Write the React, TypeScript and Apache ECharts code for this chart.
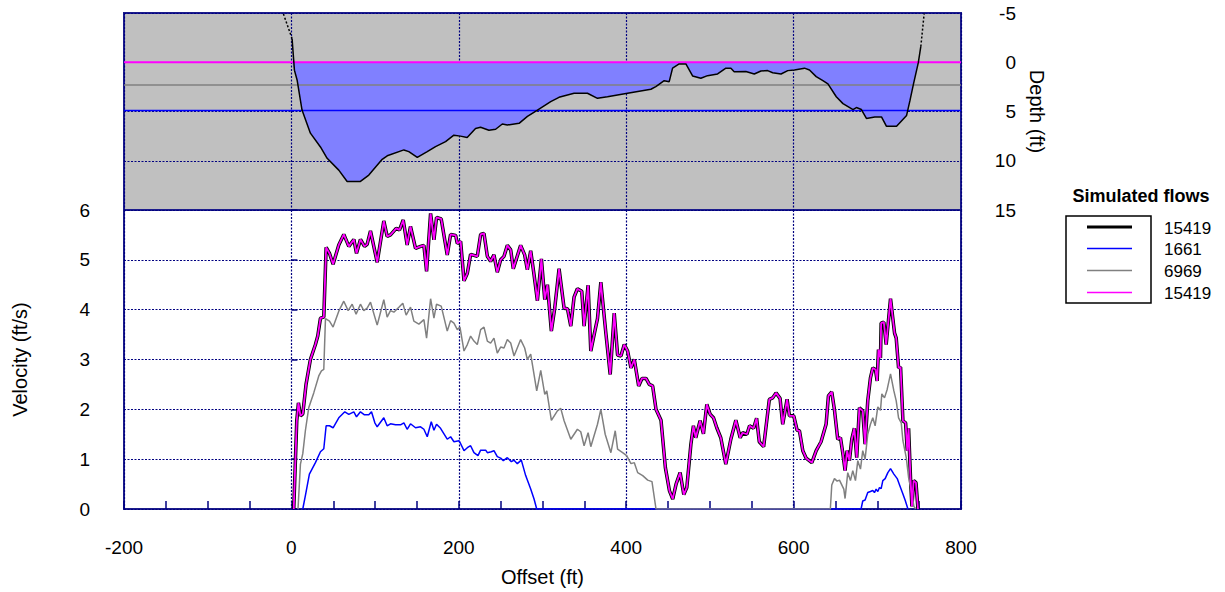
import React, { useEffect, useRef } from "react";
import * as echarts from "echarts";

// ---------- DATA ----------
const flowNames = ["15419", "1661", "6969", "15419"];
const flowColors = ["#000000", "#0000FF", "#808080", "#FF00FF"];

// water-surface depth (ft) for each simulated flow
const surface15419 = 0;
const surface6969 = 2.3;
const surface1661 = 4.9;

// bed profile [offset ft, depth ft]
const bedProfile: number[][] = [
  [0.8, -2.4], [3.6, 0.8], [6.8, 1.8], [12.7, 4.85], [22.7, 7.2], [34.7, 8.6], [42.7, 9.75],
  [56.6, 10.95], [66.6, 12.1], [82.5, 12.1], [92.5, 11.45], [108.5, 9.85], [114.5, 9.5],
  [134.4, 8.9], [140.3, 9.07], [150.4, 9.65], [162.3, 9.07], [172.2, 8.56], [184.2, 8.06],
  [194.1, 7.4], [202, 7.5], [210, 7.64], [220, 6.73], [226, 6.6], [236, 6.9], [244, 6.8],
  [252, 6.27], [258, 6.37], [272, 6.2], [282, 5.5], [294, 4.85], [309.8, 4.0], [319.7, 3.56],
  [329.8, 3.32], [337.7, 3.15], [353.7, 3.15], [365.7, 3.66], [377.6, 3.5], [401.6, 3.15],
  [429.5, 2.74], [435.4, 2.48], [445.4, 1.87], [451.4, 1.97], [455.4, 0.6], [463.3, 0.17],
  [471.3, 0.17], [479.3, 1.39], [489.2, 1.63], [497.2, 1.36], [509.2, 1.19], [519.1, 0.6],
  [525.1, 0.6], [529, 0.96], [543, 0.93], [553, 1.19], [561, 0.89], [569, 0.85], [575, 1.06],
  [585, 1.19], [593, 0.85], [601, 0.78], [613, 0.6], [619, 0.78], [627, 1.46], [635, 1.87],
  [641, 2.2], [651, 3.5], [659, 4.2], [671, 4.8], [675, 4.6], [681, 4.8], [687, 5.7],
  [697, 5.55], [705, 5.55], [711, 6.5], [723, 6.5], [735, 5.4], [739, 3.9], [743, 2.3],
  [749, 0.04], [752, -1.6],
];
const leftBank: number[][] = [[-9.5, -4.9], [0.8, -2.4]];
const rightBank: number[][] = [[752, -1.6], [756, -4.95]];

// velocity profiles [offset ft, velocity ft/s]
const vel15419: number[][] = [
  [2.8, 0], [6.4, 1.77], [8.4, 2.13], [10.8, 1.87], [13.6, 1.91], [17.5, 2.5], [22.7, 3.0],
  [28.7, 3.3], [31.5, 3.47], [34.7, 3.83], [38.7, 3.85], [41.5, 5.25], [45.5, 5.13], [49.8, 4.91],
  [56.6, 5.3], [62.6, 5.51], [68.6, 5.27], [74.6, 5.41], [77.8, 5.13], [82.5, 5.41], [87.3, 5.27],
  [90.5, 5.31], [94.5, 5.58], [102.5, 4.95], [110.4, 5.78], [114.4, 5.47], [118.4, 5.5],
  [125.2, 5.63], [129.2, 5.6], [133.6, 5.8], [138.3, 5.3], [142.3, 5.67], [148.3, 5.23],
  [154.3, 5.27], [158.3, 5.29], [161.5, 4.77], [166.3, 5.93], [170.3, 5.4], [173.4, 5.85],
  [179, 5.82], [186.2, 5.1], [190.2, 5.51], [196.2, 5.49], [198.2, 5.33], [202.2, 5.37],
  [206.2, 4.58], [210.2, 4.73], [214.1, 5.11], [222.1, 5.07], [226.1, 5.51], [230.1, 5.53],
  [234.1, 5.07], [238, 4.97], [242, 5.1], [246, 4.75], [250, 5.0], [254, 5.07], [258, 5.29],
  [262, 5.2], [265.1, 4.82], [273.9, 5.29], [278.7, 5.1], [281.9, 4.8], [285.9, 5.18],
  [289.9, 4.7], [293.9, 4.18], [298.7, 5.02], [302.7, 4.2], [305.9, 4.5], [310.6, 3.57],
  [314.6, 4.03], [319.8, 4.82], [325.8, 4.03], [329.8, 4.02], [333.8, 3.67], [337.7, 4.25],
  [341.7, 4.42], [346.9, 4.37], [349.7, 3.67], [354.5, 4.49], [357.7, 3.17], [361.7, 3.5],
  [365.7, 3.82], [369.7, 4.55], [375.7, 3.53], [380.9, 2.7], [385.7, 3.93], [389.7, 3.09],
  [393.7, 3.07], [397.7, 3.3], [401.7, 3.17], [405.7, 2.83], [409.7, 3.0], [414.9, 2.47],
  [418.9, 2.62], [423.7, 2.62], [427.6, 2.5], [431.6, 2.47], [435.6, 2.0], [441.6, 1.78],
  [446.8, 0.83], [451.6, 0.37], [455.6, 0.2], [459.6, 0.5], [464.4, 0.73], [468.8, 0.29],
  [472.4, 0.43], [477.3, 1.3], [480.3, 1.67], [483.1, 1.43], [488.3, 1.77], [492.3, 1.51],
  [496.3, 2.1], [500.3, 1.9], [504.3, 1.83], [508.2, 1.63], [513, 1.43], [519, 0.9], [525, 1.4],
  [531, 1.78], [536.2, 1.43], [539, 1.53], [544.2, 1.5], [547.4, 1.67], [552.2, 1.62],
  [555.8, 1.82], [559, 1.35], [564.2, 1.25], [571, 2.2], [575, 2.23], [579, 2.33], [583.8, 2.22],
  [587, 1.7], [592.2, 2.2], [595, 1.87], [600.2, 1.87], [604.2, 1.58], [607, 1.57], [611, 1.17],
  [615, 1.02], [621.8, 0.93], [627, 1.17], [632.8, 1.35], [638.8, 1.7], [641.6, 2.27],
  [645.6, 2.35], [648.8, 1.99], [652.7, 1.4], [656, 1.43], [658.7, 1.13], [661.5, 0.77],
  [663.9, 1.17], [666.7, 0.97], [669.5, 1.4], [672.6, 1.62], [675.4, 1.03], [678.6, 2.03],
  [682.6, 1.97], [685.4, 1.3], [688.6, 2.17], [691.8, 2.63], [694.6, 2.83], [697.8, 2.8],
  [699.8, 2.57], [701.4, 3.2], [703.8, 3.03], [704.6, 3.73], [707.8, 3.75], [710.6, 3.3],
  [715.8, 4.22], [720.6, 3.53], [722.6, 3.43], [725.4, 2.83], [727.8, 2.85], [730.6, 1.77],
  [733.8, 1.73], [735.8, 1.17], [737.4, 1.62], [739.8, 0.57], [741.4, 0.05], [743.4, 0.57],
  [746.2, 0.53], [748.6, 0],
];

const vel6969: number[][] = [
  [7.9, 0], [10.8, 0.9], [13.6, 1.11], [16.7, 1.57], [20.7, 2.03], [26.7, 2.33], [32.7, 2.67],
  [35.9, 2.77], [38.7, 2.8], [40.7, 3.82], [45.5, 3.77], [49.8, 3.65], [56.6, 3.97], [62.6, 4.17],
  [67.8, 3.98], [72.6, 4.11], [77.3, 3.91], [82.5, 4.11], [86.5, 3.98], [90.5, 4.03], [94.5, 4.15],
  [102.5, 3.69], [110.4, 4.2], [114.4, 3.85], [118.4, 3.98], [122.4, 3.95], [128.4, 4.05],
  [133.1, 4.13], [137.1, 3.89], [142.3, 4.05], [146.3, 3.77], [152.3, 3.71], [158.3, 3.8],
  [161.5, 3.43], [166.3, 4.22], [170.3, 3.83], [173.4, 4.11], [179, 4.07], [186.2, 3.57],
  [190.2, 3.78], [194.2, 3.73], [198.2, 3.6], [201.4, 3.65], [206.2, 3.17], [210.2, 3.3],
  [214.1, 3.47], [218.1, 3.37], [222.1, 3.3], [226.1, 3.6], [230.1, 3.65], [234.1, 3.37],
  [238, 3.33], [242, 3.43], [246, 3.13], [250, 3.25], [254, 3.23], [258, 3.4], [262, 3.33],
  [266, 3.07], [273.9, 3.4], [278.7, 3.23], [281.9, 3.0], [285.9, 3.11], [293.1, 2.37],
  [297.9, 2.78], [302.7, 2.3], [305.1, 2.37], [310.6, 1.78], [317.8, 1.97], [321.8, 2.02],
  [325.8, 1.77], [333.8, 1.4], [341.7, 1.6], [345.7, 1.55], [349.7, 1.27], [354.5, 1.53],
  [357.7, 1.25], [365.7, 1.7], [369.7, 2.0], [374.9, 1.5], [381.7, 1.13], [386.9, 1.57],
  [389.7, 1.2], [395.7, 1.13], [400.5, 1.07], [405.7, 0.91], [409.7, 0.93], [413.7, 0.73],
  [419.7, 0.67], [425.7, 0.58], [430.8, 0.55], [435.6, 0], [643.9, 0], [645.6, 0.48],
  [648.8, 0.61], [652, 0.56], [654.8, 0.58], [660, 0.4], [661.5, 0.21], [664.7, 0.73],
  [667.9, 0.57], [670.7, 0.77], [673.9, 0.57], [676.7, 0.97], [679.9, 0.8], [682.6, 1.17],
  [685.4, 1.0], [688.6, 1.5], [691.8, 1.7], [694.6, 1.83], [697.4, 1.67], [700.6, 2.05],
  [703.8, 1.98], [705.4, 2.31], [708.6, 2.23], [711.8, 2.4], [715.8, 2.71], [719.8, 2.37],
  [722.6, 2.17], [725.4, 1.83], [728.6, 1.73], [730.6, 1.37], [734.6, 1.03], [737.4, 0.63],
  [740.6, 0.37], [743.8, 0.05], [746.2, 0],
];

const vel1661: number[][] = [
  [13.6, 0], [16.7, 0.27], [21.5, 0.7], [28.7, 0.93], [34.7, 1.15], [38.7, 1.21], [41.5, 1.67],
  [45.5, 1.67], [49.8, 1.63], [56.6, 1.83], [63.8, 1.95], [68.6, 1.9], [74.6, 1.95], [77.8, 1.85],
  [82.5, 1.95], [87.3, 1.89], [92.5, 1.89], [95.7, 1.95], [99.7, 1.73], [102.5, 1.65],
  [110.4, 1.83], [114.4, 1.67], [118.4, 1.71], [124.4, 1.69], [130.4, 1.69], [134.4, 1.73],
  [138.3, 1.6], [142.3, 1.71], [148.3, 1.63], [154.3, 1.65], [158.3, 1.6], [162.3, 1.45],
  [167.1, 1.75], [170.3, 1.58], [173.4, 1.7], [178.2, 1.62], [186.2, 1.4], [190.2, 1.45],
  [194.2, 1.35], [200.2, 1.37], [202.2, 1.31], [206.2, 1.17], [210.2, 1.23], [214.1, 1.27],
  [218.1, 1.13], [222.9, 1.07], [226.1, 1.18], [232.1, 1.18], [234.1, 1.13], [238.8, 1.15],
  [242, 1.17], [246, 1.05], [250, 1.02], [253.2, 0.97], [258, 1.03], [262.8, 0.95], [266, 0.98],
  [269.9, 0.91], [274.7, 0.98], [279.9, 0.67], [285.9, 0.4], [289.9, 0.2], [293.1, 0],
  [680.6, 0], [682.6, 0.16], [685.4, 0.18], [688.6, 0.33], [691.8, 0.35], [694.6, 0.37],
  [696.6, 0.33], [698.6, 0.4], [700.6, 0.35], [702.6, 0.43], [704.6, 0.41], [706.6, 0.57],
  [709.4, 0.61], [712.6, 0.73], [715.8, 0.81], [719.8, 0.7], [723.8, 0.61], [726.6, 0.48],
  [730.6, 0.3], [733.4, 0.17], [736.6, 0],
];

// axis ranges
const xMin = -200, xMax = 800, xStep = 200;
const depthMin = -5, depthMax = 15, depthStep = 5;
const velMin = 0, velMax = 6, velStep = 1;

// ---------- CHART ----------
const FONT = "'Liberation Sans', Arial, Helvetica, sans-serif";
const NAVY = "#000080";
const BORDER = "#1c1c8c";
const gridDash = { color: NAVY, width: 1.2, type: [2, 1.5] as any };

export default function App() {
  const ref = useRef<HTMLDivElement>(null);

  useEffect(() => {
    if (!ref.current) return;
    const chart = echarts.init(ref.current, undefined, { renderer: "svg" });

    const fillData = bedProfile.map((p) => [p[0], Math.max(p[1], 0)]);
    const surfaceLine = (d: number) => [[xMin, d], [xMax, d]];

    const legendY = [227, 248.5, 270.5, 292.5];
    const legendWidths = [3, 1.5, 1.5, 1.5];
    const graphic: any[] = [
      {
        type: "text",
        x: 1141,
        y: 196,
        style: {
          text: "Simulated flows",
          font: `bold 18px ${FONT}`,
          fill: "#000",
          textAlign: "center",
          textVerticalAlign: "middle",
        },
      },
      {
        type: "rect",
        shape: { x: 1066, y: 216, width: 85, height: 87 },
        style: { fill: "none", stroke: "#000", lineWidth: 1.5 },
      },
    ];
    flowNames.forEach((name, i) => {
      graphic.push({
        type: "line",
        shape: { x1: 1087, y1: legendY[i], x2: 1132, y2: legendY[i] },
        style: { stroke: flowColors[i], lineWidth: legendWidths[i] },
      });
      graphic.push({
        type: "text",
        x: 1164,
        y: legendY[i] + 1,
        style: {
          text: name,
          font: `17px ${FONT}`,
          fill: "#000",
          textAlign: "left",
          textVerticalAlign: "middle",
        },
      });
    });

    const line = (extra: any) => ({
      type: "line",
      symbol: "none",
      showSymbol: false,
      silent: true,
      ...extra,
    });

    chart.setOption({
      animation: false,
      textStyle: { fontFamily: FONT },
      grid: [
        {
          left: 124, top: 13, width: 837, height: 197,
          show: true, backgroundColor: "#C0C0C0", borderColor: BORDER, borderWidth: 2,
        },
        {
          left: 124, top: 210, width: 837, height: 300,
          show: true, backgroundColor: "#FFFFFF", borderColor: BORDER, borderWidth: 2,
        },
      ],
      xAxis: [
        {
          type: "value", gridIndex: 0, min: xMin, max: xMax, interval: xStep,
          axisLine: { show: false }, axisTick: { show: false }, axisLabel: { show: false },
          splitLine: { show: true, lineStyle: gridDash },
        },
        {
          type: "value", gridIndex: 1, min: xMin, max: xMax, interval: xStep,
          name: "Offset (ft)", nameLocation: "middle", nameGap: 58,
          nameTextStyle: { fontSize: 20, color: "#000", fontFamily: FONT },
          axisLine: { show: false },
          axisTick: { show: true, inside: true, length: 8, lineStyle: { color: NAVY, width: 1.5 } },
          minorTick: { show: true, splitNumber: 4, length: 8, lineStyle: { color: NAVY, width: 1.5 } },
          axisLabel: { fontSize: 19, color: "#000", margin: 29, fontFamily: FONT },
          splitLine: { show: true, lineStyle: gridDash },
        },
      ],
      yAxis: [
        {
          type: "value", gridIndex: 0, position: "right", inverse: true,
          min: depthMin, max: depthMax, interval: depthStep,
          name: "Depth (ft)", nameLocation: "middle", nameGap: 66, nameRotate: -90,
          nameTextStyle: { fontSize: 20, color: "#000", fontFamily: FONT },
          axisLine: { show: false }, axisTick: { show: false },
          axisLabel: { fontSize: 19, color: "#000", align: "right", margin: 55, fontFamily: FONT },
          splitLine: { show: true, lineStyle: gridDash },
        },
        {
          type: "value", gridIndex: 1, position: "left",
          min: velMin, max: velMax, interval: velStep,
          name: "Velocity (ft/s)", nameLocation: "middle", nameGap: 94, nameRotate: 90,
          nameTextStyle: { fontSize: 20, color: "#000", fontFamily: FONT },
          axisLine: { show: false },
          axisTick: { show: true, inside: true, length: 6, lineStyle: { color: NAVY, width: 1.5 } },
          axisLabel: { fontSize: 19, color: "#000", margin: 34, fontFamily: FONT },
          splitLine: { show: true, lineStyle: gridDash },
        },
      ],
      series: [
        line({
          xAxisIndex: 0, yAxisIndex: 0, data: fillData, z: 2,
          lineStyle: { width: 0, opacity: 0 },
          areaStyle: { color: "#8080FF", opacity: 1, origin: 0 },
        }),
        line({ xAxisIndex: 0, yAxisIndex: 0, data: surfaceLine(surface6969), z: 3,
          lineStyle: { color: "#808080", width: 1.5 } }),
        line({ xAxisIndex: 0, yAxisIndex: 0, data: surfaceLine(surface1661), z: 3,
          lineStyle: { color: "#0000FF", width: 1.5 } }),
        line({ xAxisIndex: 0, yAxisIndex: 0, data: surfaceLine(surface15419), z: 3,
          lineStyle: { color: "#FF00FF", width: 2 } }),
        line({ xAxisIndex: 0, yAxisIndex: 0, data: bedProfile, z: 4,
          lineStyle: { color: "#000", width: 1.5 } }),
        line({ xAxisIndex: 0, yAxisIndex: 0, data: leftBank, z: 4,
          lineStyle: { color: "#000", width: 1.5, type: [2, 2] } }),
        line({ xAxisIndex: 0, yAxisIndex: 0, data: rightBank, z: 4,
          lineStyle: { color: "#000", width: 1.5, type: [2, 2] } }),

        line({ name: flowNames[0], xAxisIndex: 1, yAxisIndex: 1, data: vel15419, z: 3,
          lineStyle: { color: flowColors[0], width: 3.5 } }),
        line({ name: flowNames[1], xAxisIndex: 1, yAxisIndex: 1, data: vel1661, z: 4,
          lineStyle: { color: flowColors[1], width: 1.5 } }),
        line({ name: flowNames[2], xAxisIndex: 1, yAxisIndex: 1, data: vel6969, z: 5,
          lineStyle: { color: flowColors[2], width: 1.5 } }),
        line({ name: flowNames[3], xAxisIndex: 1, yAxisIndex: 1, data: vel15419, z: 6,
          lineStyle: { color: flowColors[3], width: 1.8 } }),
      ],
      graphic,
    });

    return () => chart.dispose();
  }, []);

  return (
    <div
      ref={ref}
      style={{ position: "fixed", left: 0, top: 0, width: 1225, height: 592, background: "#fff" }}
    />
  );
}
